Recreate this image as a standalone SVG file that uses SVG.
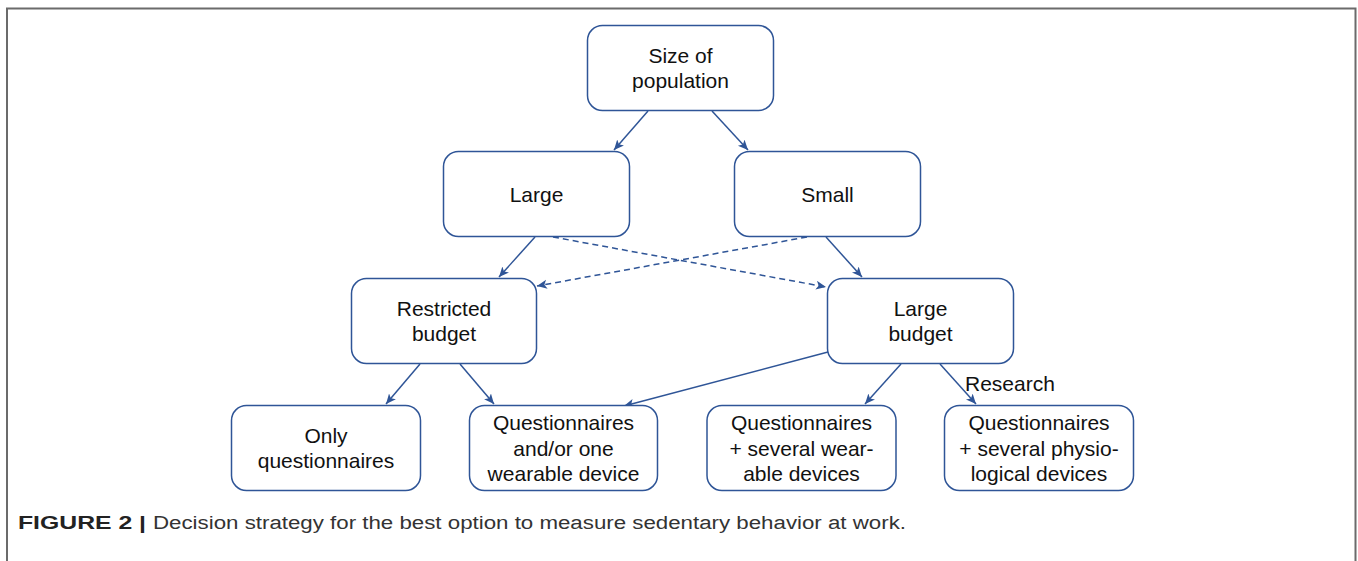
<svg xmlns="http://www.w3.org/2000/svg" width="1358" height="561" viewBox="0 0 1358 561">
<defs>
<marker id="ah" markerUnits="userSpaceOnUse" markerWidth="12" markerHeight="10" refX="10" refY="4.5" orient="auto">
<path d="M0,0 L10,4.5 L0,9 L2.5,4.5 Z" fill="#2F5597"/>
</marker>
<style>
.box{fill:#fff;stroke:#2F5597;stroke-width:1.5}
.t{font-family:"Liberation Sans",Arial,sans-serif;font-size:21px;fill:#111;text-anchor:middle}
.c{stroke:#2F5597;stroke-width:1.5;fill:none;marker-end:url(#ah)}
.d{stroke-dasharray:6 4}
.cap{font-family:"Liberation Sans",Arial,sans-serif;font-size:18px;fill:#333}
</style>
</defs>
<rect width="1358" height="561" fill="#fff"/>
<path d="M7,561 V8.5 H1355.5 V561" fill="none" stroke="#6b6b6b" stroke-width="2"/>

<g id="connectors">
<line class="c" x1="648" y1="111" x2="614" y2="150"/>
<line class="c" x1="712" y1="111" x2="748" y2="150"/>
<line class="c" x1="535" y1="237" x2="499" y2="277"/>
<line class="c d" x1="553" y1="237" x2="826" y2="287"/>
<line class="c d" x1="807" y1="237" x2="537" y2="286"/>
<line class="c" x1="826" y1="237" x2="862" y2="277"/>
<line class="c" x1="420" y1="364" x2="386" y2="404"/>
<line class="c" x1="460" y1="364" x2="494" y2="404"/>
<line class="c" x1="828" y1="352" x2="624" y2="406"/>
<line class="c" x1="901" y1="364" x2="865" y2="404"/>
<line class="c" x1="940" y1="364" x2="976" y2="404"/>
<text class="t" x="965" y="391" style="text-anchor:start">Research</text>
</g>

<g id="size">
<rect class="box" x="587.5" y="25.5" width="186" height="85" rx="15"/>
<text class="t" x="680.5" y="63">Size of</text>
<text class="t" x="680.5" y="88">population</text>
</g>
<g id="large">
<rect class="box" x="443.5" y="151.5" width="186" height="85" rx="15"/>
<text class="t" x="536.5" y="201.5">Large</text>
</g>
<g id="small">
<rect class="box" x="734.5" y="151.5" width="186" height="85" rx="15"/>
<text class="t" x="827.5" y="201.5">Small</text>
</g>
<g id="restricted">
<rect class="box" x="351.5" y="278.5" width="185" height="85" rx="15"/>
<text class="t" x="444" y="316">Restricted</text>
<text class="t" x="444" y="341">budget</text>
</g>
<g id="largebudget">
<rect class="box" x="827.5" y="278.5" width="186" height="85" rx="15"/>
<text class="t" x="920.5" y="316">Large</text>
<text class="t" x="920.5" y="341">budget</text>
</g>
<g id="only">
<rect class="box" x="231.5" y="405.5" width="189" height="85" rx="15"/>
<text class="t" x="326" y="443">Only</text>
<text class="t" x="326" y="468">questionnaires</text>
</g>
<g id="onewearable">
<rect class="box" x="469.5" y="405.5" width="188" height="85" rx="15"/>
<text class="t" x="563.5" y="430">Questionnaires</text>
<text class="t" x="563.5" y="455.5">and/or one</text>
<text class="t" x="563.5" y="481">wearable device</text>
</g>
<g id="severalwearable">
<rect class="box" x="707" y="405.5" width="189" height="85" rx="15"/>
<text class="t" x="801.5" y="430">Questionnaires</text>
<text class="t" x="801.5" y="455.5">+ several wear-</text>
<text class="t" x="801.5" y="481">able devices</text>
</g>
<g id="physio">
<rect class="box" x="944.5" y="405.5" width="189" height="85" rx="15"/>
<text class="t" x="1039" y="430">Questionnaires</text>
<text class="t" x="1039" y="455.5">+ several physio-</text>
<text class="t" x="1039" y="481">logical devices</text>
</g>

<text class="cap" x="18" y="529"><tspan font-weight="bold" fill="#222" textLength="128" lengthAdjust="spacingAndGlyphs">FIGURE 2 |</tspan><tspan x="153" textLength="753" lengthAdjust="spacingAndGlyphs">Decision strategy for the best option to measure sedentary behavior at work.</tspan></text>
</svg>
